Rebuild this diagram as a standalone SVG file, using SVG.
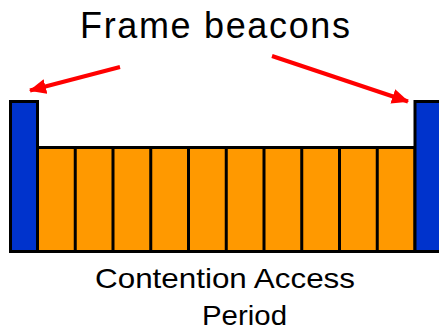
<svg xmlns="http://www.w3.org/2000/svg" width="439" height="331" viewBox="0 0 439 331">
  <style>
    .beacon { fill: #0033CC; stroke: #000; stroke-width: 3; }
    .slot { fill: #FF9900; stroke: #000; stroke-width: 3; }
    .arrow { stroke: #FF0000; stroke-width: 4; fill: none; marker-end: url(#head); }
    .label { font-family: "Liberation Sans", Arial, sans-serif; fill: #000; }
  </style>
  <defs>
    <marker id="head" markerUnits="userSpaceOnUse" markerWidth="17" markerHeight="15" refX="16" refY="7.5" orient="auto">
      <path d="M0,0 L17,7.5 L0,15 Z" fill="#FF0000"/>
    </marker>
  </defs>

  <rect width="439" height="331" fill="#fff"/>

  <g id="title">
    <text class="label" x="80" y="38" font-size="36" textLength="270" lengthAdjust="spacing">Frame beacons</text>
  </g>

  <g id="cap">
    <rect class="slot" x="37.5" y="147.5" width="377.5" height="104"/>
    <path d="M75.25,147.5V251.5 M113,147.5V251.5 M150.75,147.5V251.5 M188.5,147.5V251.5 M226.25,147.5V251.5 M264,147.5V251.5 M301.75,147.5V251.5 M339.5,147.5V251.5 M377.25,147.5V251.5" stroke="#000" stroke-width="3"/>
  </g>

  <g id="beacon-left">
    <rect class="beacon" x="10.5" y="101.5" width="27" height="150"/>
  </g>

  <g id="beacon-right">
    <rect class="beacon" x="415" y="101.5" width="30" height="150"/>
  </g>

  <g id="connectors">
    <line class="arrow" x1="120" y1="67" x2="30" y2="90.5"/>
    <line class="arrow" x1="272" y1="56" x2="408" y2="101.5"/>
  </g>

  <g id="caption">
    <text class="label" x="95" y="288" font-size="28" textLength="260" lengthAdjust="spacingAndGlyphs">Contention Access</text>
    <text class="label" x="202" y="325" font-size="28" textLength="85" lengthAdjust="spacingAndGlyphs">Period</text>
  </g>
</svg>
